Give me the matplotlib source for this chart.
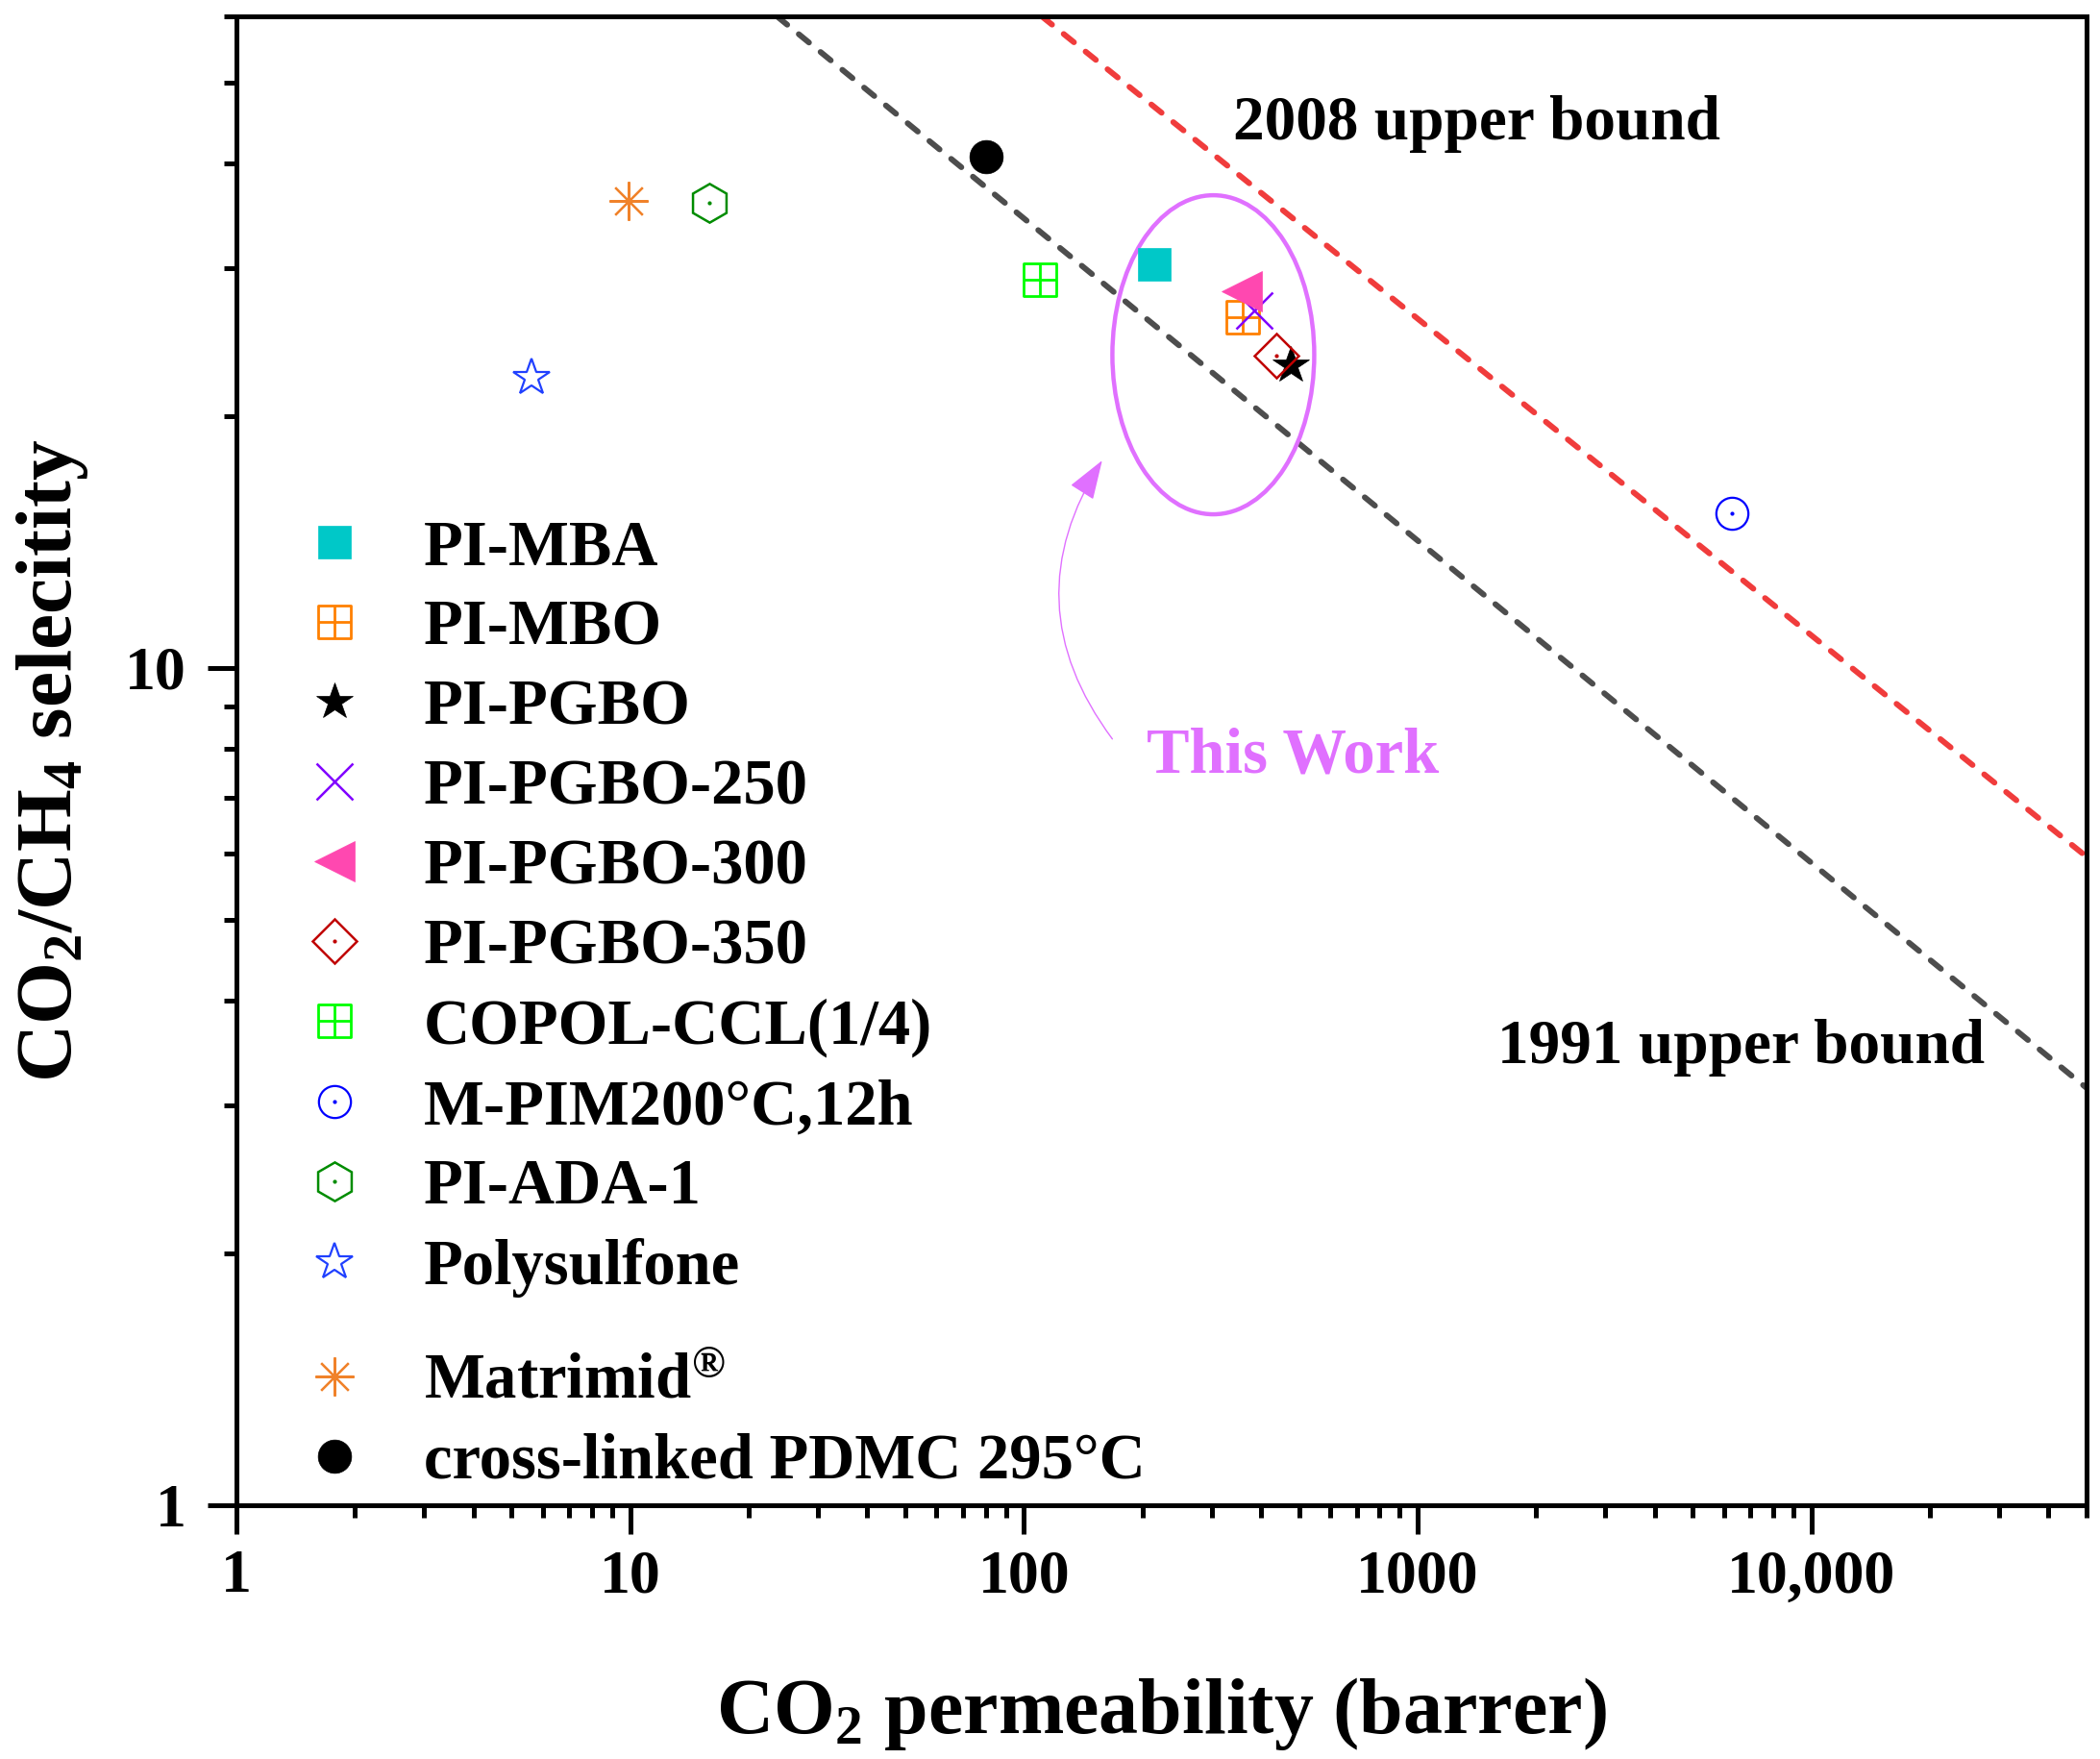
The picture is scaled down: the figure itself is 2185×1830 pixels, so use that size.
import numpy as np
import matplotlib
matplotlib.use("Agg")
import matplotlib.pyplot as plt
from matplotlib.path import Path
from matplotlib.patches import Ellipse, FancyArrowPatch
from matplotlib.legend_handler import HandlerTuple
from matplotlib.ticker import NullFormatter, FixedLocator, LogLocator

# ---------------- data ----------------
names = ["PI-MBA", "PI-MBO", "PI-PGBO", "PI-PGBO-250", "PI-PGBO-300", "PI-PGBO-350",
         "COPOL-CCL(1/4)", "M-PIM200°C,12h", "PI-ADA-1", "Polysulfone",
         "Matrimid$^{®}$", "cross-linked PDMC 295°C"]
co2_perm = [214, 359, 475, 384, 357, 437, 110, 6300, 15.9, 5.6, 9.9, 80.3]
selectivity = [30.3, 26.2, 23.0, 26.7, 28.2, 23.6, 29.1, 15.3, 35.9, 22.2, 36.1, 40.8]

ub1991_x = [23.6, 50000]
ub1991_y = [60, 3.15]
ub2008_x = [111, 50000]
ub2008_y = [60, 5.95]

xtick_vals = [1, 10, 100, 1000, 10000]
xtick_labels = ["1", "10", "100", "1000", "10,000"]
ytick_vals = [1, 10]
ytick_labels = ["1", "10"]

# ---------------- style ----------------
plt.rcParams["font.family"] = ["Liberation Serif", "DejaVu Serif"]
plt.rcParams["font.weight"] = "bold"
plt.rcParams["axes.labelweight"] = "bold"
plt.rcParams["mathtext.fontset"] = "custom"
plt.rcParams["mathtext.rm"] = "Liberation Serif:bold"
plt.rcParams["mathtext.bf"] = "Liberation Serif:bold"
plt.rcParams["mathtext.it"] = "Liberation Serif:italic:bold"
plt.rcParams["mathtext.default"] = "rm"

grid_sq = Path([(-0.5, -0.5), (0.5, -0.5), (0.5, 0.5), (-0.5, 0.5), (-0.5, -0.5),
                (-0.5, 0.0), (0.5, 0.0), (0.0, -0.5), (0.0, 0.5)],
               [Path.MOVETO, Path.LINETO, Path.LINETO, Path.LINETO, Path.CLOSEPOLY,
                Path.MOVETO, Path.LINETO, Path.MOVETO, Path.LINETO])

# marker, size, facecolor, edgecolor, edge width, center dot
styles = [
    ("s", 24, "#00C8C8", "#00C8C8", 0.5, False),
    (grid_sq, 24, "none", "#FF8000", 2.0, False),
    ("*", 29, "black", "black", 0.5, False),
    ("x", 28, "none", "#8000FF", 1.8, False),
    ("<", 30, "#FF48B0", "#FF48B0", 0.5, False),
    ("D", 23, "none", "#C00000", 1.8, True),
    (grid_sq, 24, "none", "#00FF00", 2.0, False),
    ("o", 24, "none", "#0000FF", 1.6, True),
    ("h", 29, "none", "#008C00", 1.8, True),
    ("*", 29, "none", "#2040FF", 1.6, False),
    ((8, 2, 0), 29, "none", "#F0822A", 1.6, False),
    ("o", 25, "black", "black", 0.5, False),
]

fig = plt.figure(figsize=(21.85, 18.30), dpi=100)
ax = fig.add_axes([0.1126, 0.1443, 0.9936 - 0.1126, 0.9907 - 0.1443])
ax.set_xscale("log")
ax.set_yscale("log")
ax.set_xlim(1, 50000)
ax.set_ylim(1, 60)

# upper bound lines
ax.plot(ub1991_x, ub1991_y, color="#4D4D4D", lw=4.3, dashes=(2.3, 2.6),
        dash_capstyle="round", zorder=2)
ax.plot(ub2008_x, ub2008_y, color="#F03C3C", lw=4.3, dashes=(2.3, 2.6),
        dash_capstyle="round", zorder=2)

ax.text(0.5387, 0.928, "2008 upper bound", transform=ax.transAxes, fontsize=47,
        ha="left", va="center")
ax.text(0.6816, 0.307, "1991 upper bound", transform=ax.transAxes, fontsize=47,
        ha="left", va="center")

# "This work" ellipse and arrow
pc = "#E070FF"
ax.add_patch(Ellipse((0.528, 0.7727), 0.1091, 0.2143, transform=ax.transAxes,
                     fill=False, edgecolor=pc, lw=3.2, zorder=3))
ax.add_patch(FancyArrowPatch((0.4743, 0.5132), (0.4687, 0.7032), transform=ax.transAxes,
                             connectionstyle="arc3,rad=-0.35",
                             arrowstyle="-|>,head_length=1.3,head_width=0.45",
                             mutation_scale=20, color=pc, lw=1.0, zorder=3))
ax.text(0.571, 0.503, "This Work", transform=ax.transAxes, fontsize=48, color=pc,
        ha="center", va="center")

handles = []
for i, name in enumerate(names):
    m, ms, fc, ec, mew, dot = styles[i]
    h, = ax.plot([co2_perm[i]], [selectivity[i]], linestyle="none", marker=m,
                 markersize=ms, markerfacecolor=fc, markeredgecolor=ec,
                 markeredgewidth=mew, label=name, zorder=5)
    if dot:
        d, = ax.plot([co2_perm[i]], [selectivity[i]], linestyle="none", marker="o",
                     markersize=2, markerfacecolor=ec, markeredgecolor=ec, zorder=6)
        handles.append((h, d))
    else:
        handles.append(h)

leg_kw = dict(loc="upper left", frameon=False, fontsize=48, handlelength=1.0,
              handletextpad=0.9, labelspacing=0.33, borderpad=0, borderaxespad=0,
              numpoints=1, handler_map={tuple: HandlerTuple(ndivide=1)})
leg1 = ax.legend(handles[:10], names[:10], bbox_to_anchor=(0.0356, 0.662), **leg_kw)
ax.add_artist(leg1)
leg2 = ax.legend(handles[10:], names[10:], bbox_to_anchor=(0.0356, 0.102), **leg_kw)

# axes styling
for s in ax.spines.values():
    s.set_linewidth(3.6)
ax.xaxis.set_major_locator(FixedLocator(xtick_vals))
ax.set_xticklabels(xtick_labels)
ax.yaxis.set_major_locator(FixedLocator(ytick_vals))
ax.set_yticklabels(ytick_labels)
ax.xaxis.set_minor_locator(LogLocator(base=10, subs=np.arange(2, 10)))
ax.yaxis.set_minor_locator(LogLocator(base=10, subs=np.arange(2, 10)))
ax.xaxis.set_minor_formatter(NullFormatter())
ax.yaxis.set_minor_formatter(NullFormatter())
ax.tick_params(which="major", direction="out", length=21.5, width=3.6, labelsize=46)
ax.tick_params(which="minor", direction="out", length=9.5, width=3.6)
ax.tick_params(axis="x", which="major", pad=12)
ax.tick_params(axis="y", which="major", pad=16)

ax.set_xlabel("CO$_2$ permeability (barrer)", fontsize=59, fontweight="bold", labelpad=52)
ax.set_ylabel("CO$_2$/CH$_4$ selecitity", fontsize=60, fontweight="bold", labelpad=26)

fig.savefig("out.png", dpi=100)
